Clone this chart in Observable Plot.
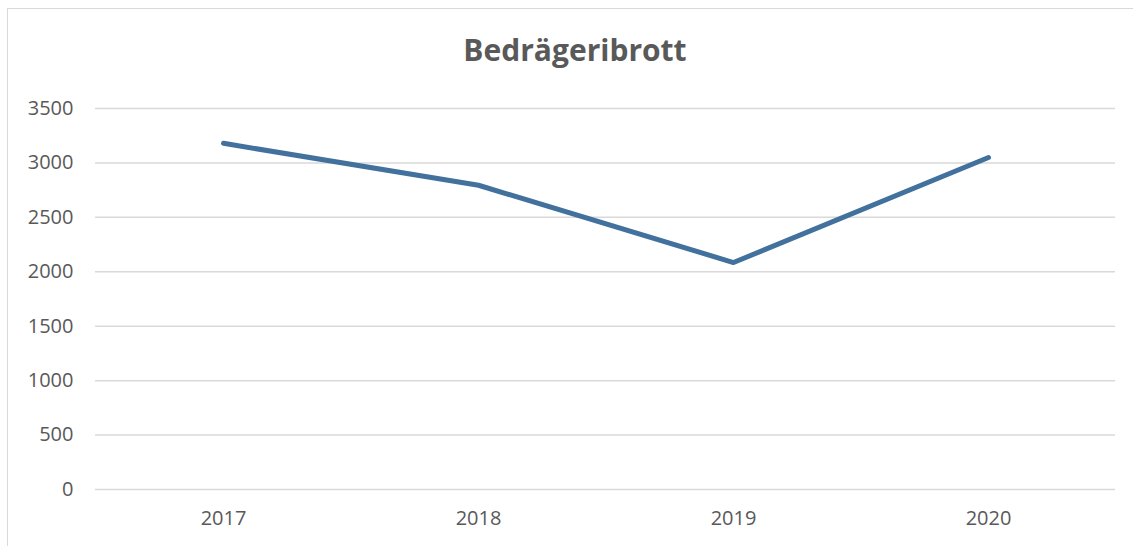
<!DOCTYPE html>
<html>
<head>
<meta charset="utf-8">
<script src="https://cdn.jsdelivr.net/npm/d3@7"></script>
<script src="https://cdn.jsdelivr.net/npm/@observablehq/plot@0.6"></script>
<style>
  html, body { margin: 0; padding: 0; background: #fff; }
  #wrap { position: relative; width: 1133px; height: 546px; overflow: hidden; font-family: "Open Sans", "Noto Sans", sans-serif; }
  #frame { position: absolute; left: 7px; top: 8px; width: 1140px; height: 560px; border-left: 1.5px solid #d9d9d9; border-top: 1.5px solid #d9d9d9; box-sizing: border-box; }
  #title { position: absolute; left: 0; width: 1150px; top: 29px; text-align: center; font-size: 30px; font-weight: 700; color: #595959; letter-spacing: 0px; }
  #chart { position: absolute; left: 0; top: 0; }
</style>
</head>
<body>
<div id="wrap">
  <div id="frame"></div>
  <div id="title">Bedrägeribrott</div>
  <div id="chart"></div>
</div>
<script>
const years = ["2017", "2018", "2019", "2020"];
const values = [3180, 2795, 2085, 3050];
const yTicks = [0, 500, 1000, 1500, 2000, 2500, 3000, 3500];

const data = years.map((y, i) => ({year: y, value: values[i]}));

const plot = Plot.plot({
  width: 1133,
  height: 546,
  marginLeft: 95,
  marginRight: 18,
  marginTop: 108,
  marginBottom: 57,
  style: {fontFamily: "'Open Sans', 'Noto Sans', sans-serif", fontSize: "20px", color: "#595959", background: "transparent", overflow: "visible"},
  x: {type: "point", domain: years, padding: 0.5, label: null},
  y: {domain: [0, 3500], label: null},
  marks: [
    Plot.ruleY(yTicks, {stroke: "#d9d9d9", strokeWidth: 1.5}),
    Plot.axisY(yTicks, {tickSize: 0, tickPadding: 22, label: null, fill: "#595959", fontSize: 20, tickFormat: d => String(d)}),
    Plot.axisX(years, {tickSize: 0, tickPadding: 21, label: null, fill: "#595959", fontSize: 20}),
    Plot.line(data, {x: "year", y: "value", stroke: "#41719c", strokeWidth: 5, strokeLinecap: "round", strokeLinejoin: "round"})
  ]
});
document.getElementById("chart").appendChild(plot);
</script>
</body>
</html>
